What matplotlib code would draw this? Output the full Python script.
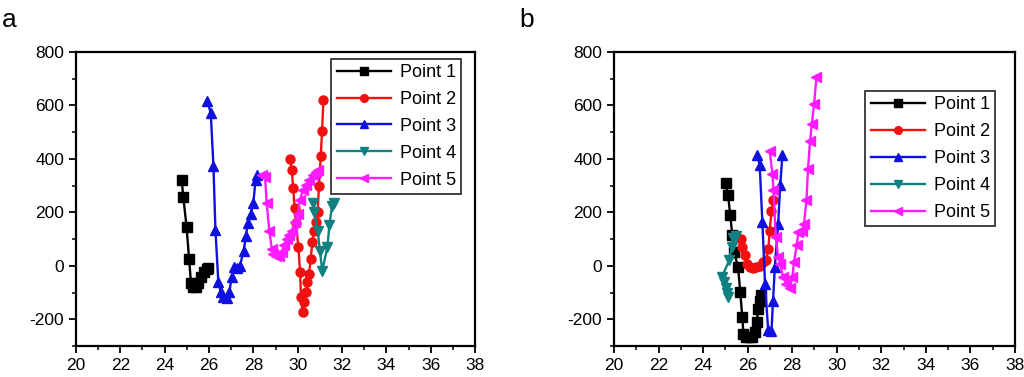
import matplotlib
matplotlib.use("Agg")
import matplotlib.pyplot as plt
from matplotlib.ticker import MultipleLocator

plt.rcParams['font.family'] = ['Liberation Sans', 'DejaVu Sans']

labels = ['Point 1', 'Point 2', 'Point 3', 'Point 4', 'Point 5']
colors = ['black', '#f01010', '#1010e0', '#108080', '#ff1aff']
markers = ['s', 'o', '^', 'v', '<']

# panel a
a1_x = [24.77, 24.84, 24.99, 25.10, 25.19, 25.29, 25.41, 25.52, 25.64, 25.77, 25.89, 25.97]
a1_y = [320, 257, 145, 26, -65, -80, -80, -65, -42, -24, -11, -9]
a2_x = [29.65, 29.73, 29.80, 29.86, 29.92, 30.03, 30.11, 30.15, 30.23, 30.30, 30.38, 30.44,
        30.51, 30.59, 30.66, 30.74, 30.83, 30.90, 30.96, 31.04, 31.10, 31.16]
a2_y = [399, 360, 291, 216, 160, 72, -24, -118, -174, -136, -99, -61,
        -30, 26, 89, 132, 164, 201, 297, 410, 504, 620]
a3_x = [25.92, 26.08, 26.20, 26.29, 26.42, 26.53, 26.65, 26.80, 26.92, 27.02, 27.13, 27.25,
        27.40, 27.56, 27.67, 27.74, 27.88, 28.00, 28.10, 28.15]
a3_y = [616, 572, 372, 135, -59, -99, -118, -121, -99, -42, -5, -10,
        0, 57, 111, 160, 195, 236, 320, 339]
a4_x = [30.68, 30.74, 30.90, 31.00, 31.11, 31.34, 31.43, 31.55, 31.65]
a4_y = [235, 201, 132, 57, -18, 70, 151, 225, 235]
a5_x = [28.38, 28.53, 28.60, 28.72, 28.83, 28.90, 29.02, 29.17, 29.28, 29.38, 29.50, 29.62,
        29.73, 29.88, 30.00, 30.10, 30.23, 30.38, 30.53, 30.68, 30.83, 30.93]
a5_y = [339, 332, 236, 132, 64, 45, 35, 35, 51, 76, 101, 114,
        132, 164, 195, 245, 282, 301, 320, 339, 351, 360]

# panel b
b1_x = [25.01, 25.12, 25.22, 25.31, 25.39, 25.57, 25.67, 25.76, 25.81, 25.91, 26.06, 26.21,
        26.32, 26.41, 26.48, 26.54, 26.62]
b1_y = [310, 264, 189, 114, 51, -5, -99, -193, -255, -265, -265, -265,
        -249, -211, -161, -130, -111]
b2_x = [25.69, 25.76, 25.87, 25.99, 26.11, 26.24, 26.39, 26.54, 26.69, 26.81, 26.93, 26.99,
        27.07, 27.16]
b2_y = [101, 70, 39, 8, -5, -9, -5, 1, 14, 20, 64, 132, 204, 245]
b3_x = [26.44, 26.54, 26.66, 26.78, 26.92, 27.07, 27.14, 27.22, 27.37, 27.46, 27.56]
b3_y = [414, 376, 164, -67, -240, -242, -130, -5, 158, 301, 414]
b4_x = [25.46, 25.33, 25.28, 25.18, 24.85, 24.95, 25.02, 25.08, 25.13]
b4_y = [110, 105, 70, 22, -40, -62, -82, -100, -118]
b5_x = [26.99, 27.11, 27.16, 27.26, 27.37, 27.46, 27.59, 27.74, 27.89, 28.01, 28.08, 28.20,
        28.28, 28.43, 28.53, 28.64, 28.71, 28.80, 28.88, 28.98, 29.09]
b5_y = [430, 345, 282, 107, 32, 8, -42, -67, -82, -42, 14, 76,
        126, 132, 158, 245, 364, 467, 530, 605, 706]

panels = [
    ('a', [(a1_x, a1_y), (a2_x, a2_y), (a3_x, a3_y), (a4_x, a4_y), (a5_x, a5_y)]),
    ('b', [(b1_x, b1_y), (b2_x, b2_y), (b3_x, b3_y), (b4_x, b4_y), (b5_x, b5_y)]),
]

fig = plt.figure(figsize=(10.24, 3.77), dpi=100)
ax_a = fig.add_axes([0.0742, 0.0822, 0.3897, 0.780])
ax_b = fig.add_axes([0.5996, 0.0822, 0.3916, 0.780])

for ax, (name, series) in zip([ax_a, ax_b], panels):
    for (xs, ys), lab, c, m in zip(series, labels, colors, markers):
        ax.plot(xs, ys, color=c, marker=m, markersize=6.5, lw=1.7, label=lab)
    ax.set_xlim(20, 38)
    ax.set_ylim(-300, 800)
    ax.xaxis.set_major_locator(MultipleLocator(2))
    ax.xaxis.set_minor_locator(MultipleLocator(1))
    ax.yaxis.set_major_locator(MultipleLocator(200))
    ax.yaxis.set_minor_locator(MultipleLocator(100))
    ax.tick_params(which='major', direction='out', length=5, width=1.3, labelsize=12.5)
    ax.tick_params(which='minor', direction='out', length=3, width=1.1)
    ax.tick_params(top=False, right=False)
    for s in ax.spines.values():
        s.set_linewidth(1.6)
    ax.set_yticklabels([str(int(t)) for t in ax.get_yticks()])

leg_kw = dict(fontsize=13, frameon=True, fancybox=False, edgecolor='black',
              handlelength=3.0, borderpad=0.3, labelspacing=0.55, handletextpad=0.5,
              borderaxespad=0.2, markerscale=0.85)
la = ax_a.legend(loc='upper right', bbox_to_anchor=(0.975, 0.99), **leg_kw)
lb = ax_b.legend(loc='upper right', bbox_to_anchor=(0.96, 0.88), **leg_kw)
for lg in (la, lb):
    lg.get_frame().set_linewidth(1.3)

fig.text(0.002, 0.928, 'a', fontsize=19)
fig.text(0.507, 0.928, 'b', fontsize=19)

fig.savefig('out.png', dpi=100)
